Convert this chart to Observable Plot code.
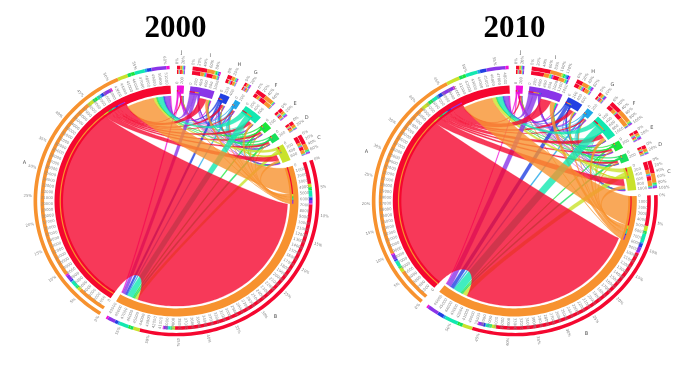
<!DOCTYPE html>
<html><head><meta charset="utf-8">
<script src="https://cdn.jsdelivr.net/npm/d3@7"></script>
<script src="https://cdn.jsdelivr.net/npm/@observablehq/plot@0.6"></script>
<style>
html,body{margin:0;padding:0;background:#fff;overflow:hidden}
#wrap{position:relative;width:679px;height:379px}
#wrap>div{position:absolute;top:0}
svg{display:block;background:transparent;filter:blur(.4px)}
</style></head><body><div id="wrap"><div id="p0" style="left:0"></div><div id="p1" style="left:339px"></div></div>
<script>
const sectors = ["A","B","C","D","E","F","G","H","I","J"];
const ringColors = ["#F5072F","#F7922F","#C9E22B","#18E05C","#1BE63C","#12E8B0","#1FA6E8","#2140E2","#8A35E8","#F010D8"];
const clockwiseOrder = ["J","I","H","G","F","E","D","C","B","A"];
const years = ["2000","2010"];
const flows2000 = [
 [0,108,2.8,1,1,1.6,.6,1.2,3.5,.6],
 [14,0,1.2,.4,.3,1,.2,.3,1.5,.3],
 [1.4,1.5,0,.1,.15,.15,.05,.1,.15,.05],
 [.5,.8,.1,0,.1,.05,.03,.05,.1,.03],
 [.5,.6,.2,.1,0,.1,.05,.1,.25,.05],
 [2.6,2.8,.1,.05,.1,0,.05,.1,.1,.05],
 [.3,.5,.1,.05,.1,.05,0,.1,.15,.05],
 [.7,1,.1,.05,.1,.05,.1,0,.2,.05],
 [2.5,1.6,.25,.1,.2,.1,.2,.2,0,.15],
 [.7,.5,.1,.05,.1,.05,.1,.1,.3,0]
];
const flows2010 = [
 [0,96,3.6,1,1,2.4,.8,2,5.5,.7],
 [15.5,0,1.8,.5,.4,1.6,.3,.9,2.2,.3],
 [2,2.4,0,.1,.2,.3,.05,.15,.3,.05],
 [.5,.8,.1,0,.1,.1,.03,.1,.15,.03],
 [.4,.5,.2,.1,0,.1,.05,.15,.3,.05],
 [2.6,4,.2,.1,.1,0,.05,.15,.3,.05],
 [.3,.6,.1,.05,.1,.05,0,.15,.2,.05],
 [.7,1.8,.2,.1,.1,.1,.2,0,.3,.05],
 [2.4,2.5,.3,.1,.3,.2,.3,.4,0,.2],
 [.6,.4,.1,.05,.1,.05,.1,.15,.4,0]
];
const innerMain2000 = [[13,84],[10,89]];
const innerMain2010 = [[15,71],[13.8,74]];
const startAngles = [0.2,0.5];
const centersPx = [[176,200.5],[175.3,200.5]];
const titleX = [175,175];

const W=340,H=379,RX=122,RY=115.5,GAP=3;
const pt=(deg,r)=>{const a=deg*Math.PI/180;return [r*Math.sin(a),r*Math.cos(a)];};

function build(yi){
  const m = yi? flows2010:flows2000, main = yi? innerMain2010:innerMain2000, n=10;
  const outT=sectors.map((_,i)=>d3.sum(m[i])), inT=sectors.map((_,i)=>d3.sum(m,r=>r[i]));
  const tot=sectors.map((_,i)=>outT[i]+inT[i]);
  const k=(360-GAP*n)/d3.sum(tot);
  const span={}; let a=startAngles[yi];
  for(const s of clockwiseOrder){const i=sectors.indexOf(s);span[i]=[a,a+tot[i]*k];a+=tot[i]*k+GAP;}
  const outPos=[],inPos=[];
  for(let i=0;i<n;i++){
    let c=span[i][0]; outPos[i]=[];inPos[i]=[];
    for(let j=0;j<n;j++){outPos[i][j]=[c,c+m[i][j]*k];c+=m[i][j]*k;}
    for(let j=0;j<n;j++){inPos[i][j]=[c,c+m[j][i]*k];c+=m[j][i]*k;}
  }
  const rings=[],chords=[],rims=[],tracks=[];
  let id=0;
  const band=(arr,a0,a1,r0,r1,fill)=>{
    const t=id++,st=Math.max(2,Math.ceil(Math.abs(a1-a0)/1.5));
    for(let q=0;q<=st;q++){const[x,y]=pt(a0+(a1-a0)*q/st,r1);arr.push({id:t,x,y,fill});}
    for(let q=st;q>=0;q--){const[x,y]=pt(a0+(a1-a0)*q/st,r0);arr.push({id:t,x,y,fill});}
  };
  const bez=(arr,t,fill,a,ra,b,rb)=>{
    let d=Math.abs(((b-a)%360+360)%360); if(d>180)d=360-d;
    const h=.7+.2*Math.max(0,Math.min(1,(d-60)/120));
    const[px,py]=pt(a,ra),[qx,qy]=pt(b,rb),[c0x,c0y]=pt(a,ra*h),[c1x,c1y]=pt(b,rb*h);
    for(let q=1;q<40;q++){const u=q/40,v=1-u;
      arr.push({id:t,x:v*v*v*px+3*v*v*u*c0x+3*v*u*u*c1x+u*u*u*qx,y:v*v*v*py+3*v*v*u*c0y+3*v*u*u*c1y+u*u*u*qy,fill});}
  };
  for(let i=0;i<n;i++) band(rings,span[i][0],span[i][1],.93,1,ringColors[i]);
  const links=[];
  for(let i=0;i<n;i++)for(let j=0;j<n;j++) if(m[i][j]>0) links.push([i,j,m[i][j]]);
  links.sort((p,q)=>p[2]-q[2]);
  const RS=.955,RD=.91;
  for(const[i,j] of links){
    const[a0,a1]=outPos[i][j],[b0,b1]=inPos[j][i],t=id++,f=ringColors[i];
    const arc=(x0,x1,r)=>{const st=Math.max(1,Math.ceil(Math.abs(x1-x0)/1.5));for(let q=0;q<=st;q++){const[x,y]=pt(x0+(x1-x0)*q/st,r);chords.push({id:t,x,y,fill:f});}};
    arc(a0,a1,RS);bez(chords,t,f,a1,RS,b0,RD);arc(b0,b1,RD);bez(chords,t,f,b1,RD,a0,RS);
    band(rims,a0,a1,.948,.958,ringColors[j]);
  }
  for(let i=0;i<n;i++){
    const big=i<2, rI=big?[1.085,1.115]:[1.1,1.134], rO=big?[1.142,1.172]:[1.138,1.172];
    let c=span[i][0];
    for(let j=0;j<n;j++){const v=(m[i][j]+m[j][i])*k; if(v>0){band(tracks,c,c+v,rO[0],rO[1],ringColors[j]);c+=v;}}
    c=span[i][0];
    const put=(j,v)=>{if(v>0){band(tracks,c,c+v,rI[0],rI[1],ringColors[j]);c+=v;}};
    if(big){
      const p=1-i;
      put(p,main[i][0]);
      for(let j=2;j<n;j++)put(j,m[j][i]*k);
      put(p,main[i][1]);
      for(let j=2;j<n;j++)put(j,m[i][j]*k);
    } else {
      for(let j=0;j<n;j++)put(j,m[j][i]*k);
      for(let j=0;j<n;j++)put(j,m[i][j]*k);
    }
  }
  const txt=(arr,deg,r,text)=>{const[x,y]=pt(deg,r),right=((deg%360)+360)%360<180;arr.push({x,y,text,rot:right?deg-90:deg+90,right});};
  const ticks=[],pct=[],names=[];
  for(let i=0;i<n;i++){
    const[s0,s1]=span[i],big=i<2,step=big?2.8:2.3,unit=big?1000:200;
    for(let q=0,d=s0;d<=s1;q++,d+=step) txt(ticks,d,1.012,String(q*unit));
    const ps=big?11.9:2.4,pu=big?5:20;
    for(let q=0,d=s0;d<=s1+.1;q++,d+=ps) txt(pct,d,1.185,(q*pu)+"%");
    const[nx,ny]=pt((s0+s1)/2,1.29); names.push({x:nx,y:ny,text:sectors[i]});
  }
  const [cxp,cyp]=centersPx[yi];
  const tick=(rows,anchor,fill)=>Plot.text(rows,{x:"x",y:"y",text:"text",rotate:"rot",textAnchor:anchor,fontSize:3.8,fill,fontFamily:"DejaVu Sans"});
  return Plot.plot({
    width:W,height:H,margin:0,
    x:{domain:[-cxp/RX,(W-cxp)/RX],axis:null},
    y:{domain:[-(H-cyp)/RY,cyp/RY],axis:null},
    color:{type:"identity"},
    style:{background:"transparent"},
    marks:[
      Plot.line(rings,{x:"x",y:"y",z:"id",fill:"fill",stroke:"none",curve:"linear"}),
      Plot.line(chords,{x:"x",y:"y",z:"id",fill:"fill",fillOpacity:.8,stroke:"fill",strokeWidth:.35,strokeOpacity:.75,curve:"linear"}),
      Plot.line(rims,{x:"x",y:"y",z:"id",fill:"fill",stroke:"none",curve:"linear"}),
      Plot.line(tracks,{x:"x",y:"y",z:"id",fill:"fill",stroke:"none",curve:"linear"}),
      tick(ticks.filter(d=>d.right),"start","#8c8c8c"),
      tick(ticks.filter(d=>!d.right),"end","#8c8c8c"),
      tick(pct.filter(d=>d.right),"start","#808080"),
      tick(pct.filter(d=>!d.right),"end","#808080"),
      Plot.text(names,{x:"x",y:"y",text:"text",fontSize:5,fill:"#555",fontFamily:"DejaVu Sans"}),
      Plot.text([years[yi]],{text:d=>d,frameAnchor:"top-left",dx:titleX[yi],dy:27,textAnchor:"middle",lineAnchor:"middle",fontSize:31,fontWeight:"bold",fill:"#000",fontFamily:"Liberation Serif"})
    ]
  });
}
document.getElementById("p0").appendChild(build(0));
document.getElementById("p1").appendChild(build(1));
</script></body></html>
